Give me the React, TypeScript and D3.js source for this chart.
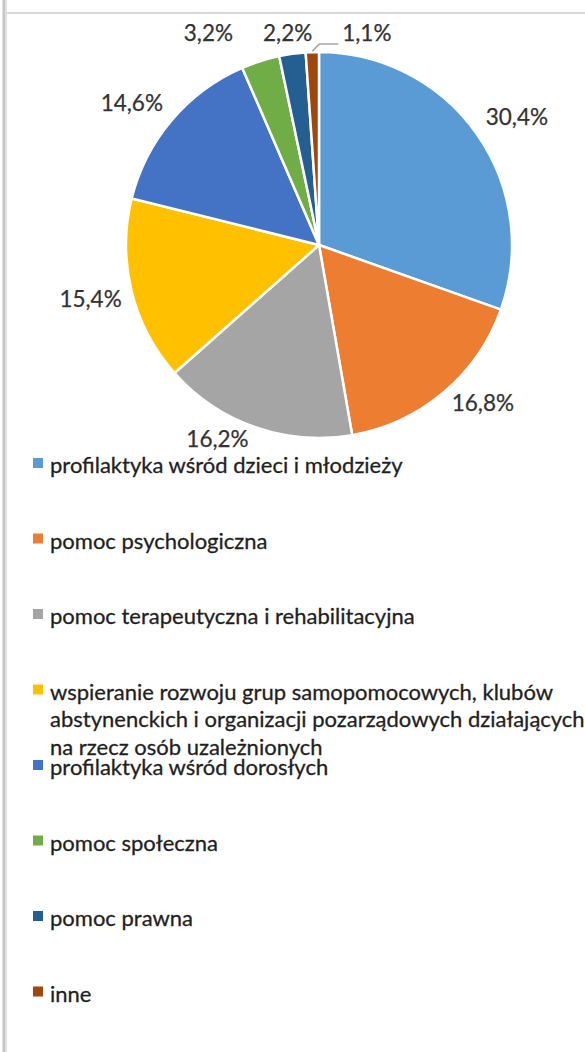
import React from "react";
import { pie, arc, format } from "d3";

const categories = [
  "profilaktyka wśród dzieci i młodzieży",
  "pomoc psychologiczna",
  "pomoc terapeutyczna i rehabilitacyjna",
  "wspieranie rozwoju grup samopomocowych, klubów\nabstynenckich i organizacji pozarządowych działających\nna rzecz osób uzależnionych",
  "profilaktyka wśród dorosłych",
  "pomoc społeczna",
  "pomoc prawna",
  "inne",
];
const shares = [30.4, 16.8, 16.2, 15.4, 14.6, 3.2, 2.2, 1.1];
const colors = ["#5b9bd5", "#ed7d31", "#a5a5a5", "#ffc000", "#4472c4", "#70ad47", "#255e91", "#9e480e"];

const W = 585;
const H = 1052;
const cx = 319;
const cy = 245;
const r = 193;
const labelFont = 22.5;
const legendFont = 22;
const FONT = "Lato, 'Noto Sans', sans-serif";

const fmt = (v: number) => format(".1f")(v).replace(".", ",") + "%";

let ctx: CanvasRenderingContext2D | null = null;
function textWidth(s: string, size: number) {
  if (!ctx) ctx = document.createElement("canvas").getContext("2d");
  if (!ctx) return s.length * size * 0.5;
  ctx.font = `${size}px Lato`;
  return ctx.measureText(s).width;
}

const App = () => {
  const arcs = pie<number>().sort(null).value((d) => d)(shares);
  const slice = arc<any>().innerRadius(0).outerRadius(r);

  // label box corner sits just outside the rim, along the slice's mid angle
  const gap = 5;
  const padX = 5;
  const dy = -4;
  const halfH = labelFont * 0.45;
  const labels = arcs.map((a, i) => {
    const mid = (a.startAngle + a.endAngle) / 2;
    const sx = Math.sin(mid);
    const sy = -Math.cos(mid);
    const text = fmt(shares[i]);
    const w = textWidth(text, labelFont);
    const px = sx * (r + gap);
    const py = sy * (r + gap);
    return {
      text,
      w,
      mid,
      small: shares[i] < 5,
      px,
      x: cx + px + Math.sign(sx) * (w / 2 + padX),
      y: cy + py + Math.sign(sy) * halfH + dy,
      ax: cx + sx * (r + 1),
      ay: cy + sy * (r + 1),
    };
  });

  // thin slices at the top: put their labels side by side in one row
  const small = labels.filter((l) => l.small);
  if (small.length) {
    const rowY = Math.min(...small.map((l) => l.y));
    const center = cx + small.reduce((s, l) => s + l.px, 0) / small.length;
    const sp = 30;
    const total = small.reduce((s, l) => s + l.w, 0) + sp * (small.length - 1);
    let x0 = center - total / 2;
    small.forEach((l) => {
      l.x = x0 + l.w / 2;
      l.y = rowY;
      x0 += l.w + sp;
    });
  }

  const legendTop = 473;
  const legendStep = 75.5;
  const lineStep = 27.5;

  return (
    <>
      <style>{"body{margin:0}"}</style>
      <svg width={W} height={H} style={{ display: "block", fontFamily: FONT }}>
        <rect x={0} y={0} width={W} height={H} fill="#fff" />
        <rect x={2} y={0} width={5} height={H} fill="#e0e0e0" />
        <rect x={3} y={0} width={2} height={H} fill="#c6c6c6" />
        <rect x={7} y={12} width={W - 7} height={2} fill="#d9d9d9" />

        <g transform={`translate(${cx},${cy})`}>
          {arcs.map((a, i) => (
            <path key={i} d={slice(a) || ""} fill={colors[i]} stroke="#fff" strokeWidth={2.5} strokeLinejoin="round" />
          ))}
        </g>

        {labels.map((l, i) => {
          const crossed = Math.sin(l.mid) < 0 && l.x - l.w / 2 > l.ax;
          if (!crossed) return null;
          const ly = l.y + halfH + 1;
          const lx = l.x - l.w / 2 - 4;
          return (
            <polyline
              key={"ld" + i}
              points={`${l.ax},${l.ay} ${l.ax + 7},${ly} ${lx},${ly}`}
              fill="none"
              stroke="#a6a6a6"
              strokeWidth={1.5}
            />
          );
        })}

        {labels.map((l, i) => (
          <text
            key={"lb" + i}
            x={l.x}
            y={l.y}
            textAnchor="middle"
            dominantBaseline="central"
            fontSize={labelFont}
            fill="#333"
            stroke="#333"
            strokeWidth={0.25}
          >
            {l.text}
          </text>
        ))}

        {categories.map((c, i) => {
          const y = legendTop + i * legendStep;
          return (
            <g key={"lg" + i}>
              <rect x={33} y={y - 15} width={10} height={10} fill={colors[i]} />
              <text x={50} y={y} fontSize={legendFont} fill="#1f1f1f" stroke="#1f1f1f" strokeWidth={0.3}>
                {c.split("\n").map((line, j) => (
                  <tspan key={j} x={50} y={y + j * lineStep}>
                    {line}
                  </tspan>
                ))}
              </text>
            </g>
          );
        })}
      </svg>
    </>
  );
};

export default App;
